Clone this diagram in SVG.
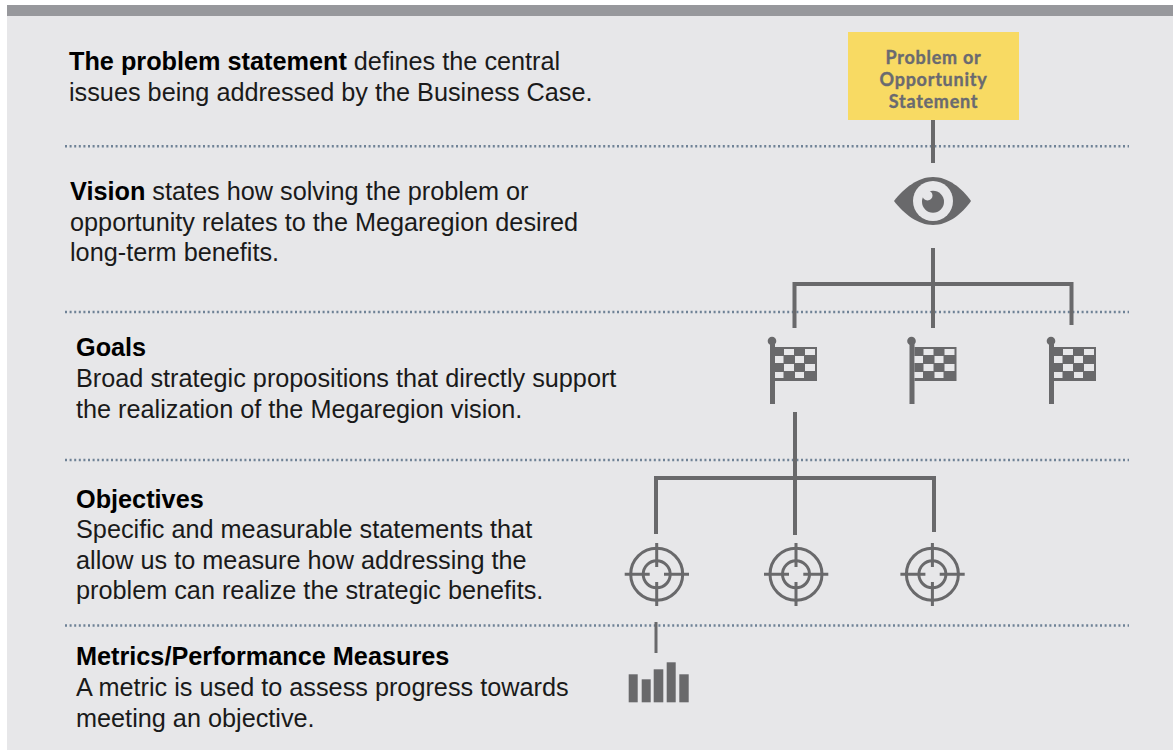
<svg xmlns="http://www.w3.org/2000/svg" width="1173" height="750" viewBox="0 0 1173 750">
<style>
.t{font-family:"Liberation Sans",Arial,sans-serif;font-size:25.25px;fill:#1a1a1a}
.b{font-weight:700;fill:#000}
.bx{font-family:Lato,"Open Sans",sans-serif;font-size:18px;font-weight:700;fill:#6a6a70;stroke:#6a6a70;stroke-width:.35;text-anchor:middle;letter-spacing:.75px}
.dot{stroke:#6f8296;stroke-width:2.600;stroke-dasharray:2 2.600;fill:none}
.c{stroke:#69696b;stroke-width:4;fill:none}
.ic{fill:#69696b}
.tg{stroke:#69696b;stroke-width:3;fill:none}
.w{fill:#e7e7e9}
</style>
<defs>
<g id="flag">
<circle class="ic" cx="772" cy="341" r="4.300"/>
<rect class="ic" x="770" y="341" width="5" height="63"/>
<rect class="ic" x="775" y="347" width="42" height="34"/>
<path class="w" d="M784 349h10v6h-10zM805 349h10v6h-10zM775 356h8.500v7h-8.500zM795 356h9v7h-9zM784 364h10v7h-10zM805 364h10v7h-10zM775 372h8.500v6h-8.500zM795 372h9v6h-9z"/>
</g>
<g id="target">
<circle class="tg" cx="656.700" cy="574.300" r="26"/>
<circle class="tg" cx="656.700" cy="574.300" r="13.500"/>
<path class="tg" d="M624.700 574.300h25M664 574.300h25M656.700 543v24M656.700 582v24"/>
</g>
</defs>
<rect width="1173" height="750" fill="#fff"/>
<rect x="7" y="5" width="1166" height="745" fill="#e7e7e9"/>
<rect x="7" y="5" width="1166" height="11" fill="#97989c"/>
<g id="dividers">
<path class="dot" d="M65 146.300H1129M65 312H1129M65 460H1129M65 625.500H1129"/>
</g>
<g id="connectors">
<path class="c" d="M933 120V163M933 248V328M794.500 328V284H1071.500V325M795 412V535M656 534V478H934V532"/>
<path class="c" style="stroke-width:3" d="M656 622V653"/>
</g>
<g id="problem-box">
<rect x="848" y="32" width="171" height="88" fill="#f8da63"/>
<text class="bx" x="933.500" y="63.500">Problem or</text>
<text class="bx" x="933.500" y="85.500">Opportunity</text>
<text class="bx" x="933.500" y="107.500">Statement</text>
</g>
<g id="vision-eye">
<path class="ic" d="M894 201C904 188 918 177 933 177C948 177 962 188 971 201C962 214 948 225 933 225C918 225 904 214 894 201Z"/>
<circle class="w" cx="933" cy="201" r="20"/>
<circle class="ic" cx="933" cy="201.700" r="11"/>
<circle class="w" cx="927.500" cy="195.500" r="5"/>
</g>
<g id="goal-flag-1"><use href="#flag"/></g>
<g id="goal-flag-2"><use href="#flag" x="139.500"/></g>
<g id="goal-flag-3"><use href="#flag" x="279"/></g>
<g id="objective-target-1"><use href="#target"/></g>
<g id="objective-target-2"><use href="#target" x="139.300"/></g>
<g id="objective-target-3"><use href="#target" x="275.700"/></g>
<g id="metric-bars" class="ic">
<rect x="628.700" y="674.300" width="9" height="28"/>
<rect x="641.700" y="679.300" width="9" height="23"/>
<rect x="653.700" y="669.300" width="9.600" height="33"/>
<rect x="666.700" y="662.300" width="9" height="40"/>
<rect x="679.300" y="674.300" width="9.400" height="28"/>
</g>
<g id="text-problem">
<text class="t" x="69" y="70"><tspan class="b">The problem statement</tspan> defines the central</text>
<text class="t" x="69" y="101">issues being addressed by the Business Case.</text>
</g>
<g id="text-vision">
<text class="t" x="70" y="200"><tspan class="b">Vision</tspan> states how solving the problem or</text>
<text class="t" x="70" y="231">opportunity relates to the Megaregion desired</text>
<text class="t" x="70" y="261">long-term benefits.</text>
</g>
<g id="text-goals">
<text class="t b" x="76" y="356">Goals</text>
<text class="t" x="76" y="387">Broad strategic propositions that directly support</text>
<text class="t" x="76" y="418">the realization of the Megaregion vision.</text>
</g>
<g id="text-objectives">
<text class="t b" x="76" y="507.500">Objectives</text>
<text class="t" x="76" y="538">Specific and measurable statements that</text>
<text class="t" x="76" y="568.500">allow us to measure how addressing the</text>
<text class="t" x="76" y="599">problem can realize the strategic benefits.</text>
</g>
<g id="text-metrics">
<text class="t b" x="76" y="665">Metrics/Performance Measures</text>
<text class="t" x="76" y="696">A metric is used to assess progress towards</text>
<text class="t" x="76" y="727">meeting an objective.</text>
</g>
</svg>
